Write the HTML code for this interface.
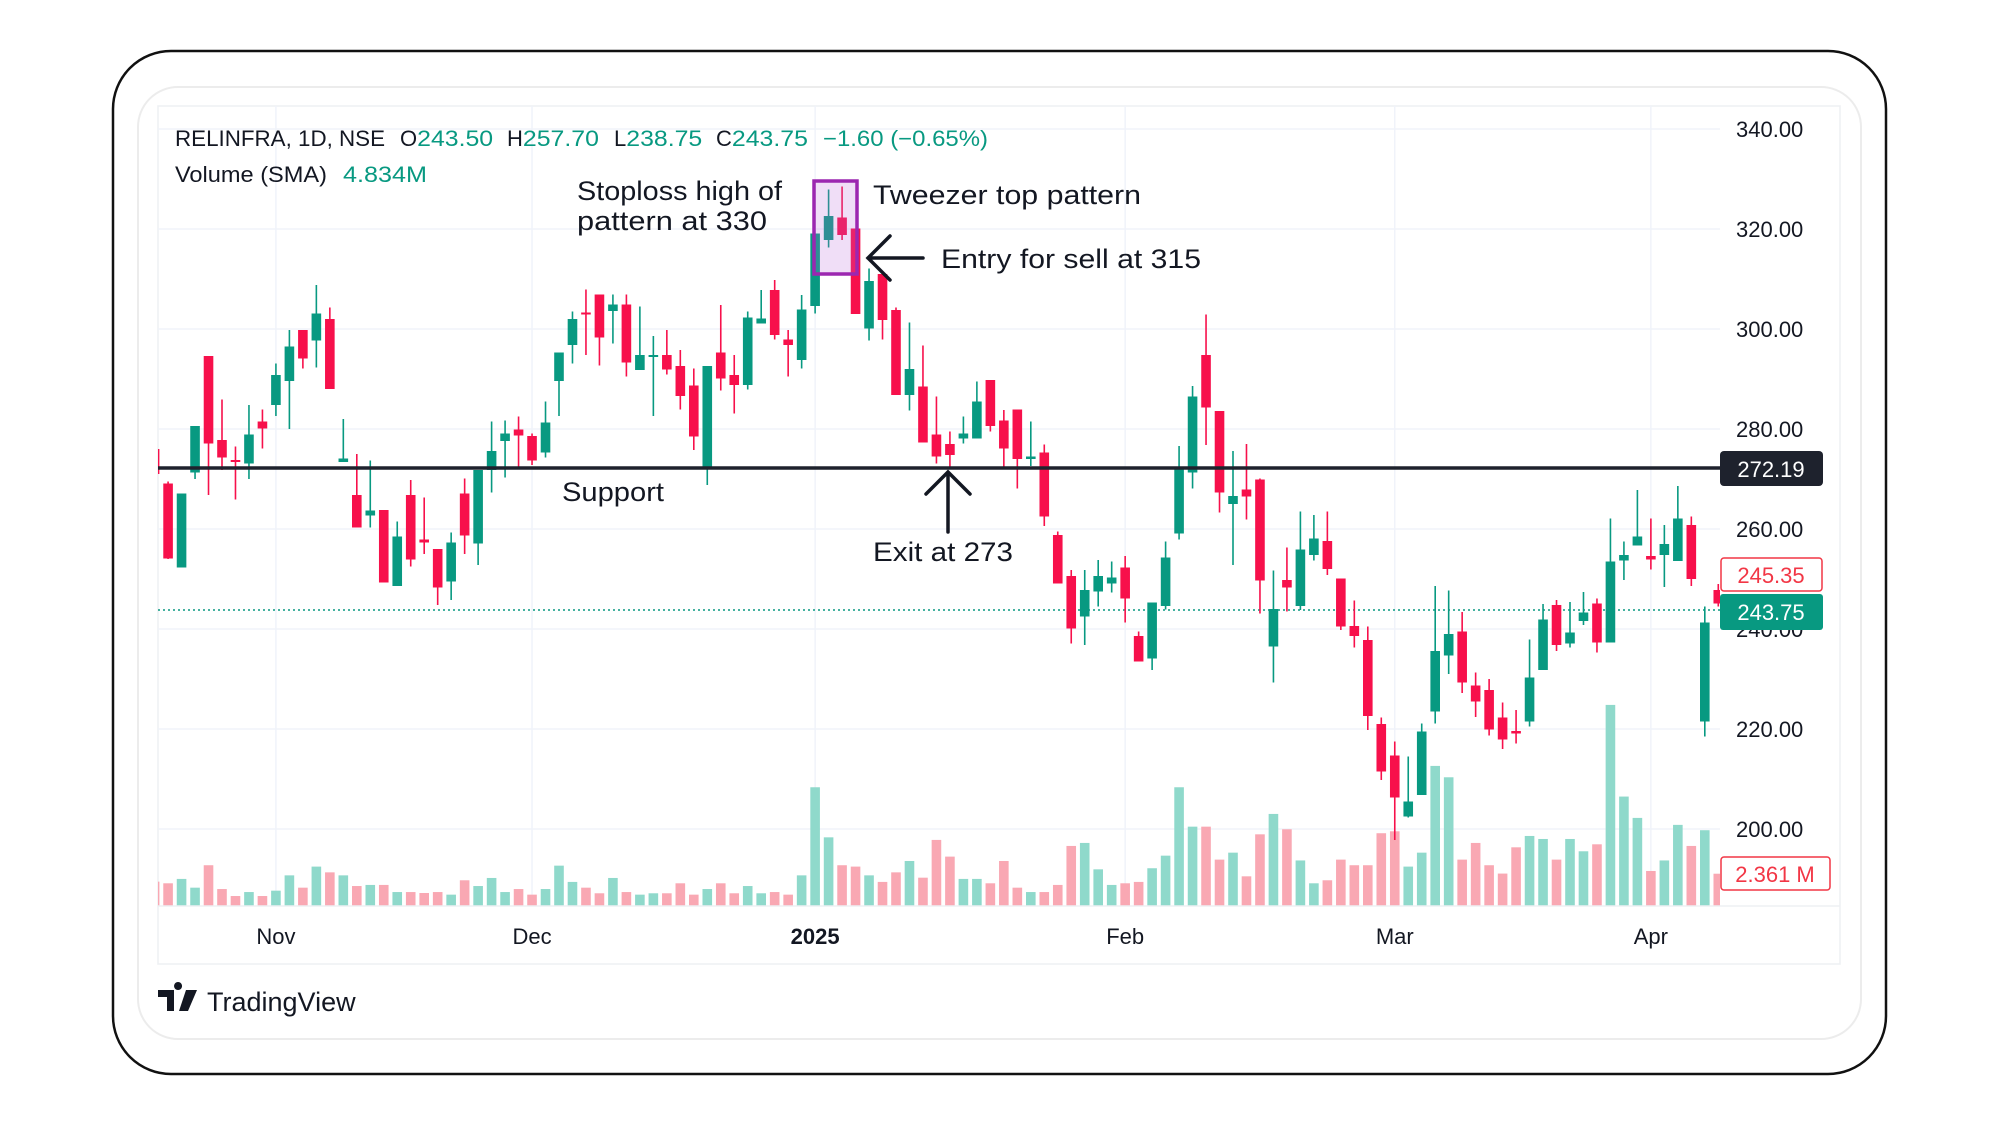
<!DOCTYPE html>
<html><head><meta charset="utf-8"><style>
html,body{margin:0;padding:0;background:#fff;width:1999px;height:1125px;overflow:hidden}
svg{display:block;font-family:"Liberation Sans",sans-serif}
</style></head><body>
<svg id="chart" width="1999" height="1125" viewBox="0 0 1999 1125">
<rect x="113" y="51" width="1773" height="1023" rx="58" fill="#fff" stroke="#111" stroke-width="2.5"/>
<rect x="138" y="87" width="1723" height="952" rx="40" fill="#fff" stroke="#ececec" stroke-width="2"/>
<rect x="158" y="106" width="1682" height="858" fill="#fff" stroke="#eef0f3" stroke-width="1.5"/>
<g id="grid"></g>
<g id="vol"></g>
<line x1="158" y1="610" x2="1720" y2="610" stroke="#089981" stroke-width="1.5" stroke-dasharray="2,3"/>
<g id="candles"></g>
<rect x="814" y="181" width="43" height="93" fill="rgba(186,104,220,0.22)" stroke="#9c27b0" stroke-width="3.5"/>
<line x1="158" y1="468" x2="1720" y2="468" stroke="#1e222d" stroke-width="3.5"/>
<g id="yaxis"></g>
<g id="xaxis"></g>
<line x1="158" y1="906" x2="1840" y2="906" stroke="#eef0f3" stroke-width="1.5"/>
<g font-size="22" fill="#131722">
<text x="175" y="146" textLength="210" lengthAdjust="spacingAndGlyphs">RELINFRA, 1D, NSE</text>
<text x="400" y="146">O<tspan fill="#089981" textLength="76" lengthAdjust="spacingAndGlyphs">243.50</tspan></text>
<text x="507" y="146">H<tspan fill="#089981" textLength="76" lengthAdjust="spacingAndGlyphs">257.70</tspan></text>
<text x="614" y="146">L<tspan fill="#089981" textLength="76" lengthAdjust="spacingAndGlyphs">238.75</tspan></text>
<text x="716" y="146">C<tspan fill="#089981" textLength="76" lengthAdjust="spacingAndGlyphs">243.75</tspan></text>
<text x="823" y="146" fill="#089981" textLength="165" lengthAdjust="spacingAndGlyphs">−1.60 (−0.65%)</text>
<text x="175" y="182" textLength="152" lengthAdjust="spacingAndGlyphs">Volume (SMA)</text>
<text x="343" y="182" fill="#089981" textLength="84" lengthAdjust="spacingAndGlyphs">4.834M</text>
</g>
<g font-size="27" fill="#131722">
<text x="577" y="200" textLength="205" lengthAdjust="spacingAndGlyphs">Stoploss high of</text>
<text x="577" y="230" textLength="190" lengthAdjust="spacingAndGlyphs">pattern at 330</text>
<text x="873" y="204" textLength="268" lengthAdjust="spacingAndGlyphs">Tweezer top pattern</text>
<text x="941" y="268" textLength="260" lengthAdjust="spacingAndGlyphs">Entry for sell at 315</text>
<text x="562" y="501" textLength="102" lengthAdjust="spacingAndGlyphs">Support</text>
<text x="873" y="561" textLength="140" lengthAdjust="spacingAndGlyphs">Exit at 273</text>
</g>
<g stroke="#131722" stroke-width="3.5" fill="none" stroke-linecap="round">
<path d="M923 258 H868 M890 236 L868 258 L890 280"/>
</g>
<g stroke="#131722" stroke-width="3.5" fill="none" stroke-linecap="round">
<path d="M948 532 V472 M926 494 L948 472 L970 494"/>
</g>
<rect x="1720" y="451" width="103" height="35" rx="4" fill="#1e222d"/>
<text x="1771" y="477" font-size="22" fill="#fff" text-anchor="middle">272.19</text>
<rect x="1721" y="558" width="101" height="33" rx="3" fill="#fff" stroke="#f23645" stroke-width="1.5"/>
<text x="1771" y="583" font-size="22" fill="#f23645" text-anchor="middle">245.35</text>
<rect x="1720" y="594" width="103" height="36" rx="3" fill="#089981"/>
<text x="1771" y="620" font-size="22" fill="#fff" text-anchor="middle">243.75</text>
<rect x="1721" y="857" width="109" height="33" rx="3" fill="#fff" stroke="#f23645" stroke-width="1.5"/>
<text x="1775" y="882" font-size="22" fill="#f23645" text-anchor="middle">2.361 M</text>
<g>
<path d="M158 990 h16 v21 h-7 v-14 h-9 z M178 990 a4 4 0 1 1 0.1 0 z M186 990 h11 l-9 21 h-9 z" fill="#131722"/>
<text x="207" y="1011" font-size="27" fill="#131722">TradingView</text>
</g>
</svg>
<script>
const opens=[276,269.1,252.3,271.3,294.6,277.8,273.8,273.1,281.5,284.8,289.6,299.8,297.7,302,273.4,266.8,262.7,263.8,248.6,266.8,257.9,256,249.5,267.1,257.1,271.8,277.6,279.9,278.6,275.3,289.6,296.8,303.3,306.9,303.6,304.9,291.8,294.5,294.8,292.6,288.7,272.1,295.3,290.8,288.8,301.1,307.8,297.9,293.8,304.6,317.8,322.3,320.1,300.1,311,303.8,286.8,288.5,278.9,277,278.1,278.1,289.8,281.7,283.9,274,275.3,258.8,250.6,242.5,247.5,249.1,252.3,238.6,234.1,244.6,259.1,271.3,294.8,283.6,265,267.9,269.9,236.5,249.8,244.6,254.8,257.6,250.1,240.6,237.8,221,214.7,202.5,206.8,223.5,234.7,239.5,228.7,227.8,222.3,219.6,221.5,231.8,244.8,237.1,241.6,245.1,237.3,253.7,256.7,254.6,254.8,253.6,260.8,221.5,247.8];
const highs=[283.8,269.5,267.1,280.6,294.6,285.9,276.5,284.8,283.9,293.1,299.8,299.8,308.8,304.3,282,275,273.7,263.8,261.5,269.8,266.3,256,259.3,270.1,271.8,281.5,281.7,282.5,279.1,285.5,295.3,303.5,307.9,306.9,306.9,306.9,304.5,298.6,299.8,295.8,292.1,292.6,304.8,294.8,303.5,307.8,309.8,299.8,306.8,319.1,327.9,328.5,320.1,312.1,311,304.3,301.3,296.7,286.5,279.5,282.5,289.5,289.8,283.8,283.9,281.5,276.9,259.5,251.8,251.8,253.8,253.5,254.6,239.5,245.3,257.5,276.6,288.6,302.9,283.6,275.6,277,270.1,251.7,256.3,263.5,262.8,263.5,250.1,245.7,240.5,222.3,217.5,214.5,221.1,248.6,247.7,243.4,231.3,230,225.3,223.8,237.9,245,245.8,245.4,247.4,246.1,262.1,257.5,267.8,262.1,260.8,268.6,262.5,244.5,249];
const lows=[267.8,254,252.3,270,266.8,271.8,265.9,270,276.1,282.6,280,292.1,292.3,288,273.4,260.3,260.3,249.3,248.6,252.5,255,244.8,245.8,255,252.8,267.3,270.3,272.5,272.8,274.3,282.6,293.1,294.8,292.7,297.1,290.5,291.8,282.6,290.9,283.9,275.8,268.8,287.7,283.1,287.9,301.1,297.9,290.5,292.1,303.1,316.3,317.8,303,297.7,297.9,286.8,283.7,277.3,273.1,272.1,277.1,278.1,279.5,272,268.1,272.6,260.6,249.1,237.1,236.8,244.5,247.3,241.3,233.5,231.8,243.9,257.9,268.1,276.8,263.3,252.8,261.9,243.1,229.3,243.5,243.8,253.7,250.8,239.8,236.3,219.8,209.8,197.8,202.3,206.8,221.1,231,227.2,222.4,218.7,216,217.1,220.5,231.8,235.6,236.3,240.8,235.3,237.3,249.8,256.7,251.9,248.4,253.6,248.6,218.5,244.5];
const closes=[271,254.1,267.1,280.6,277.1,274.3,273.4,278.9,280.1,290.8,296.5,294.1,303.1,288,274.1,260.3,263.7,249.3,258.5,253.9,257.3,248.3,257.3,258.7,271.8,275.6,279.1,278.7,273.7,281.3,295.3,302,303,298.3,304.9,293.3,294.8,294.8,291.9,286.6,278.5,292.6,290.1,288.8,302.3,302.1,298.8,296.8,303.9,319.1,322.6,318.8,303,309.6,301.8,286.8,292,277.3,274.5,274.8,279.1,285.5,280.6,276.1,274,274.5,262.5,249.1,240.1,247.8,250.6,250.3,246.1,233.5,245.3,254.3,271.9,286.5,284.3,267.3,266.6,266.5,249.7,244,248.3,255.9,258.1,252,240.5,238.6,222.6,211.5,206.3,205.5,219.5,235.6,239,229.3,225.5,219.9,217.9,219.1,230.3,241.9,236.8,239.3,243.3,237.3,253.5,254.8,258.5,253.9,257,262.1,250,241.3,245.1];
const volumes=[1.78,1.66,1.98,1.34,2.98,1.24,0.73,1.02,0.73,1.12,2.24,1.34,2.88,2.46,2.24,1.46,1.54,1.54,1.02,1.02,0.95,1.02,0.83,1.88,1.46,2.05,1.02,1.24,0.83,1.24,2.95,1.76,1.34,0.93,2.05,1.02,0.83,0.93,0.93,1.66,0.83,1.24,1.66,0.93,1.46,0.93,1.02,0.83,2.24,8.68,5.02,2.98,2.88,2.24,1.76,2.46,3.29,2.07,4.83,3.61,1.98,1.98,1.66,3.29,1.34,1.02,1.02,1.54,4.39,4.61,2.68,1.54,1.66,1.76,2.76,3.68,8.68,5.8,5.8,3.39,3.9,2.17,5.24,6.73,5.61,3.33,1.66,1.88,3.39,2.98,2.98,5.32,5.46,2.88,3.9,10.24,9.41,3.39,4.61,2.98,2.37,4.29,5.12,4.9,3.39,4.9,4.0,4.51,14.7,8.0,6.44,2.56,3.33,5.93,4.39,5.54,2.36];
const priceTicks=[340,320,300,280,260,240,220,200];
const monthLabels=["Nov","Dec","2025","Feb","Mar","Apr"];
const monthIndex=[9,28,49,72,92,111];

const NS="http://www.w3.org/2000/svg";
const X0=154.6, STEP=13.48, PLOT_L=158, PLOT_R=1720;
function xAt(i){return X0+i*STEP;}
function yPrice(p){return 129+(340-p)*5;}
function yVol(v){return 906-v*13.68;}
function mk(tag,attrs,parent){const e=document.createElementNS(NS,tag);for(const k in attrs)e.setAttribute(k,attrs[k]);parent.appendChild(e);return e;}

const grid=document.getElementById('grid');
priceTicks.forEach(p=>{
  const l=mk('line',{x1:PLOT_L,x2:1720,y1:yPrice(p),y2:yPrice(p),stroke:'#f0f3fa','stroke-width':1.5},grid);
  
  
});
monthIndex.forEach(i=>{
  const l=mk('line',{x1:xAt(i),x2:xAt(i),y1:106,y2:906,stroke:'#f0f3fa','stroke-width':1.5},grid);
  
  
});

const yaxis=document.getElementById('yaxis');
priceTicks.forEach(p=>{
  const t=mk('text',{x:1736,y:yPrice(p)+8,'font-size':22,fill:'#131722'},yaxis);
  t.textContent=p.toFixed(2);
  
  
});
const xaxis=document.getElementById('xaxis');
monthLabels.forEach((m,k)=>{
  const t=mk('text',{x:xAt(monthIndex[k]),y:944,'font-size':22,fill:'#131722','text-anchor':'middle','font-weight':m==='2025'?'bold':'normal'},xaxis);
  t.textContent=m;
  
  
});

const vol=document.getElementById('vol');
const cg=document.getElementById('candles');
const BW=9.6;
for(let i=0;i<opens.length;i++){
  const up=closes[i]>=opens[i];
  const x=xAt(i);
  const left=Math.max(PLOT_L,x-BW/2), right=Math.min(PLOT_R,x+BW/2);
  if(right<=left) continue;
  const vb=mk('rect',{x:left,y:yVol(volumes[i]),width:right-left,height:906-yVol(volumes[i]),fill:up?'#8fd9cb':'#f9a8b3'},vol);
  
  
  const col=up?'#089981':'#f7104b';
  if(x>=PLOT_L){
    const w=mk('line',{x1:x,x2:x,y1:yPrice(highs[i]),y2:yPrice(lows[i]),stroke:col,'stroke-width':1.6},cg);
    
    
  }
  const top=yPrice(Math.max(opens[i],closes[i])), bot=yPrice(Math.min(opens[i],closes[i]));
  const b=mk('rect',{x:left,y:top,width:right-left,height:Math.max(2,bot-top),fill:col},cg);
  
  
}
</script>
</body></html>
